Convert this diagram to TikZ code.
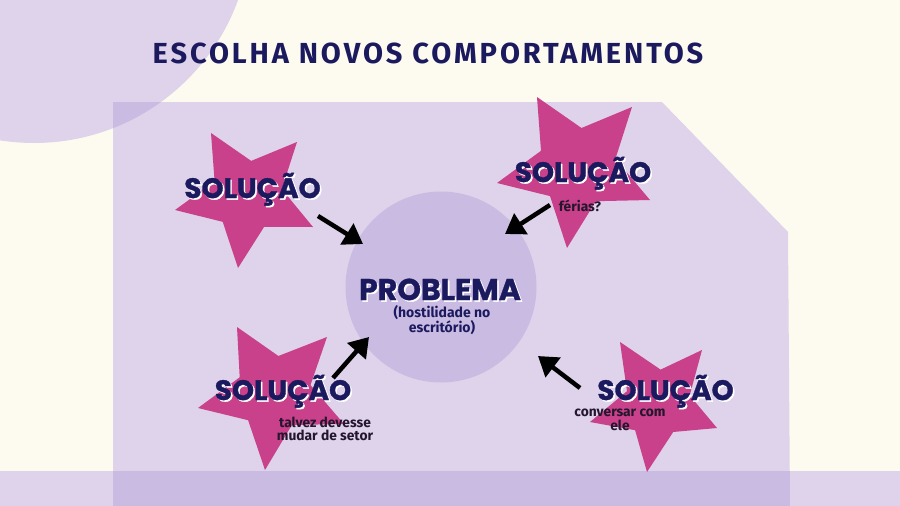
\documentclass[tikz,border=0pt]{standalone}
\usepackage{fontspec}
\setmainfont{Fira Sans}
\newfontfamily\heavyfont{Poppins}[BoldFeatures={FakeBold=1.2}]
\newfontfamily\titlefont{Fira Sans}[LetterSpace=10]
\usetikzlibrary{arrows.meta,calc}

\definecolor{cream}{HTML}{FDFBEF}
\definecolor{lilac}{HTML}{DED3EA}
\definecolor{lilacdark}{HTML}{C9BBE2}
\definecolor{starpink}{HTML}{C8418A}
\definecolor{navy}{HTML}{1C1A5E}
\definecolor{inkdark}{HTML}{24162E}

\tikzset{
  headtxt/.style={font=\heavyfont\bfseries\fontsize{28}{30}\selectfont,
    text=navy, inner sep=0pt, anchor=base},
  shadowtxt/.style={headtxt, text=white},
  notetxt/.style={font=\bfseries\fontsize{13.8}{13.5}\selectfont,
    text=inkdark, inner sep=0pt, align=center},
  pointer/.style={line width=4.5pt, black,
    -{Triangle[length=19pt,width=24pt]}},
}

% star from its centre and five tips, taken in order
\newcommand{\pinkstar}[6]{%
  \coordinate (sc) at (#1);
  \coordinate (t1) at (#2); \coordinate (t2) at (#3);
  \coordinate (t3) at (#4); \coordinate (t4) at (#5);
  \coordinate (t5) at (#6);
  \coordinate (m1) at ($(t1)!.5!(t2)$); \coordinate (m2) at ($(t2)!.5!(t3)$);
  \coordinate (m3) at ($(t3)!.5!(t4)$); \coordinate (m4) at ($(t4)!.5!(t5)$);
  \coordinate (m5) at ($(t5)!.5!(t1)$);
  \fill[starpink] (t1) -- ($(sc)!.6!(m1)$) -- (t2) -- ($(sc)!.6!(m2)$)
    -- (t3) -- ($(sc)!.6!(m3)$) -- (t4) -- ($(sc)!.6!(m4)$)
    -- (t5) -- ($(sc)!.6!(m5)$) -- cycle;
}

% heading with a white offset copy behind it
\newcommand{\shadowed}[4][]{%
  \node[shadowtxt,#1] at ($(#3)+(1.6,1.6)$) {#4};
  \node[headtxt,#1] (#2) at (#3) {#4};
}

\begin{document}
\begin{tikzpicture}[x=1pt,y=-1pt]
  \useasboundingbox (0,0) rectangle (900,506);
  \fill[cream] (0,0) rectangle (900,506);

  % background shapes
  \fill[lilac] (34,-74) circle[radius=217];
  \fill[lilac] (113,102) -- (662,102) -- (788,232) -- (790,506)
    -- (113,506) -- cycle;
  \begin{scope}
    \clip (113,102) -- (662,102) -- (788,232) -- (790,506)
      -- (113,506) -- cycle;
    \fill[lilacdark] (34,-74) circle[radius=217];
  \end{scope}
  \fill[lilac] (0,471) rectangle (900,506);
  \fill[lilacdark] (113,471) rectangle (790,506);

  % problem in the middle
  \node[circle, fill=lilacdark, minimum size=191pt, inner sep=0pt]
    (prob) at (441,287) {};

  % stars
  \pinkstar{247,196}{211,133}{297,142}{313,227}{238,268}{175,210}
  \pinkstar{577,167}{537,97}{632,107}{650,200}{567,248}{497,183}
  \pinkstar{273,392}{237,327}{327,337}{344,424}{265,470}{198,408}
  \pinkstar{660,405}{620,342}{702,350}{717,428}{647,472}{590,422}

  % title
  \node[font=\titlefont\bfseries\fontsize{29}{30}\selectfont, text=navy,
    inner sep=0pt, anchor=base] (title) at (428,63)
    {ESCOLHA NOVOS COMPORTAMENTOS};

  % headings
  \shadowed{sol1}{252.5,198}{SOLUÇÃO}
  \shadowed{sol2}{583,182}{SOLUÇÃO}
  \shadowed{sol3}{283,400}{SOLUÇÃO}
  \shadowed{sol4}{665.5,400}{SOLUÇÃO}
  \shadowed[font=\heavyfont\bfseries\fontsize{30}{32}\selectfont]
    {probtitle}{440,300}{PROBLEMA}

  % notes
  \node[notetxt, anchor=base] (note2) at (580,211) {férias?};
  \node[notetxt] (note3) at (325,429) {talvez devesse\\mudar de setor};
  \node[notetxt] (note4) at (620,420) {conversar com\\ele};
  \node[notetxt, text=navy, font=\bfseries\fontsize{14}{15}\selectfont]
    (probnote) at (442,320) {(hostilidade no\\escritório)};

  % arrows towards the problem
  \coordinate (a1) at (318,216);  \coordinate (b1) at (363,244);
  \coordinate (a2) at (550,205);  \coordinate (b2) at (505,234);
  \coordinate (a3) at (333,378);  \coordinate (b3) at (369,337);
  \coordinate (a4) at (580,388);  \coordinate (b4) at (538,356);
  \draw[pointer] (a1) -- (b1);
  \draw[pointer] (a2) -- (b2);
  \draw[pointer] (a3) -- (b3);
  \draw[pointer] (a4) -- (b4);
\end{tikzpicture}
\end{document}
